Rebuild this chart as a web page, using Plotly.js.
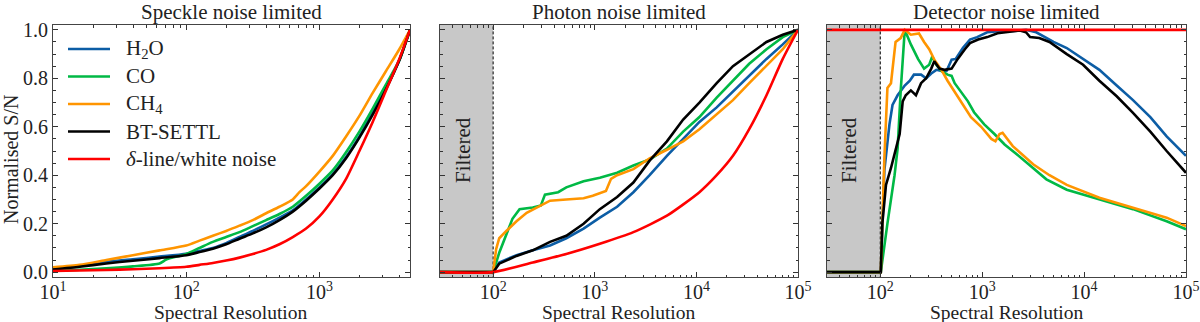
<!DOCTYPE html>
<html>
<head>
<meta charset="utf-8">
<script src="https://cdn.plot.ly/plotly-3.0.1.min.js"></script>
<style>html,body{margin:0;padding:0;background:#fff;}#chart{width:1200px;height:322px;}</style>
</head>
<body>
<div id="chart"></div>
<script>
// ---------- DATA (x given as log10 of spectral resolution, y = normalised S/N) ----------
const seriesNames = ["H<sub>2</sub>O", "CO", "CH<sub>4</sub>", "BT-SETTL", "<i>δ</i>-line/white noise"];
const seriesColors = ["#0C5DA5", "#00B945", "#FF9500", "#000000", "#FF0000"];
const panelTitles = ["Speckle noise limited", "Photon noise limited", "Detector noise limited"];
const axisTitleX = "Spectral Resolution";
const axisTitleY = "Normalised S/N";
const filterLabel = "Filtered";
const filterCut = 100;
const filterLow = 30;

// Panel 1: speckle noise limited
const spk_logR     = [1.0,1.2,1.4,1.6,1.8,2.0,2.1,2.2,2.3,2.4,2.5,2.6,2.7,2.8,2.9,3.0,3.1,3.2,3.3,3.4,3.5,3.6,3.68];
const spk_h2o      = [0.012,0.025,0.042,0.053,0.064,0.076,0.088,0.10,0.12,0.145,0.17,0.197,0.225,0.255,0.30,0.35,0.405,0.475,0.56,0.66,0.76,0.875,1.0];
const spk_bt       = [0.011,0.022,0.036,0.047,0.058,0.07,0.083,0.097,0.115,0.138,0.16,0.185,0.215,0.25,0.295,0.345,0.40,0.47,0.555,0.65,0.755,0.875,1.0];
const spk_wn       = [0.005,0.007,0.009,0.012,0.016,0.022,0.03,0.038,0.048,0.06,0.075,0.092,0.115,0.145,0.18,0.23,0.30,0.385,0.50,0.62,0.75,0.88,1.0];
const spk_co_logR  = [1.0,1.2,1.4,1.6,1.8,1.85,2.0,2.1,2.2,2.3,2.4,2.5,2.6,2.7,2.8,2.9,3.0,3.1,3.2,3.3,3.4,3.5,3.6,3.68];
const spk_co       = [0.007,0.010,0.016,0.024,0.036,0.052,0.075,0.10,0.125,0.145,0.165,0.19,0.215,0.24,0.27,0.315,0.365,0.42,0.495,0.58,0.675,0.775,0.875,1.0];
const spk_ch4_logR = [1.0,1.2,1.4,1.6,1.8,2.0,2.1,2.2,2.3,2.4,2.5,2.6,2.7,2.8,2.85,2.9,3.0,3.1,3.2,3.3,3.4,3.5,3.6,3.68];
const spk_ch4      = [0.02,0.03,0.05,0.07,0.09,0.11,0.13,0.15,0.17,0.192,0.215,0.243,0.27,0.30,0.33,0.355,0.415,0.48,0.56,0.645,0.74,0.83,0.92,1.0];

// Panel 2: photon noise limited
const pho_h2o_logR = [1.477,2.0,2.06,2.23,2.39,2.56,2.72,2.89,3.05,3.22,3.38,3.54,3.71,3.87,4.03,4.20,4.36,4.52,4.69,4.85,5.0];
const pho_h2o      = [0,0,0.04,0.07,0.09,0.11,0.14,0.18,0.225,0.27,0.33,0.40,0.48,0.55,0.62,0.68,0.745,0.81,0.88,0.94,1.0];
const pho_co_logR  = [1.477,2.0,2.06,2.13,2.19,2.26,2.39,2.47,2.51,2.64,2.72,2.89,3.05,3.22,3.38,3.54,3.71,3.87,4.03,4.20,4.36,4.52,4.69,4.85,5.0];
const pho_co       = [0,0,0.08,0.16,0.22,0.26,0.267,0.275,0.32,0.33,0.35,0.375,0.39,0.41,0.44,0.465,0.51,0.58,0.64,0.72,0.79,0.86,0.92,0.97,1.0];
const pho_ch4_logR = [1.477,2.0,2.03,2.06,2.13,2.23,2.33,2.46,2.56,2.72,2.89,2.98,3.11,3.16,3.22,3.38,3.54,3.71,3.87,4.03,4.20,4.36,4.52,4.69,4.85,5.0];
const pho_ch4      = [0,0,0.096,0.14,0.17,0.21,0.245,0.275,0.295,0.30,0.305,0.315,0.335,0.385,0.40,0.425,0.47,0.505,0.54,0.59,0.65,0.71,0.78,0.85,0.92,1.0];
const pho_bt_logR  = [1.477,2.0,2.06,2.23,2.39,2.56,2.72,2.89,3.05,3.22,3.38,3.54,3.71,3.87,4.03,4.20,4.36,4.52,4.69,4.85,5.0];
const pho_bt       = [0,0,0.035,0.067,0.09,0.125,0.15,0.20,0.26,0.31,0.37,0.46,0.54,0.63,0.70,0.78,0.85,0.90,0.95,0.98,1.0];
const pho_wn_logR  = [1.477,2.0,2.39,2.72,3.05,3.38,3.71,4.03,4.20,4.36,4.52,4.69,4.85,5.0];
const pho_wn       = [0,0,0.04,0.075,0.117,0.165,0.233,0.33,0.40,0.48,0.59,0.73,0.88,1.0];

// Panel 3: detector noise limited
const det_h2o_logR = [1.477,2.005,2.04,2.09,2.12,2.17,2.24,2.29,2.33,2.40,2.45,2.50,2.55,2.60,2.65,2.70,2.74,2.81,2.88,2.95,3.05,3.19,3.30,3.43,3.53,3.70,3.83,3.99,4.15,4.32,4.48,4.65,4.81,5.0];
const det_h2o      = [0,0,0.42,0.61,0.69,0.73,0.77,0.79,0.815,0.815,0.80,0.82,0.835,0.83,0.83,0.877,0.88,0.925,0.96,0.97,0.99,0.995,0.995,1.0,0.99,0.95,0.925,0.88,0.835,0.77,0.71,0.64,0.56,0.48];
const det_co_logR  = [1.477,2.005,2.07,2.14,2.17,2.20,2.24,2.30,2.37,2.43,2.48,2.51,2.55,2.60,2.66,2.70,2.73,2.79,2.86,2.92,3.02,3.12,3.22,3.33,3.50,3.63,3.83,4.15,4.48,4.81,5.0];
const det_co       = [0,0,0.20,0.40,0.51,0.746,1.0,0.94,0.88,0.84,0.856,0.89,0.856,0.83,0.815,0.81,0.78,0.746,0.705,0.66,0.61,0.57,0.527,0.49,0.43,0.383,0.34,0.30,0.26,0.21,0.177];
const det_ch4_logR = [1.477,2.005,2.04,2.07,2.105,2.15,2.20,2.24,2.30,2.38,2.43,2.48,2.53,2.60,2.66,2.73,2.79,2.89,2.99,3.09,3.13,3.17,3.20,3.30,3.50,3.66,3.83,4.15,4.48,4.81,5.0];
const det_ch4      = [0,0,0.47,0.76,0.78,0.95,0.966,1.0,0.98,0.985,0.95,0.92,0.877,0.835,0.79,0.746,0.705,0.64,0.60,0.55,0.54,0.57,0.575,0.52,0.445,0.40,0.36,0.307,0.266,0.225,0.19];
const det_bt_logR  = [1.477,2.005,2.02,2.056,2.105,2.15,2.19,2.22,2.25,2.30,2.35,2.40,2.45,2.50,2.53,2.58,2.63,2.70,2.76,2.83,2.88,2.96,3.05,3.15,3.24,3.37,3.43,3.47,3.56,3.66,3.83,3.99,4.15,4.32,4.48,4.65,4.81,5.0];
const det_bt       = [0,0,0.20,0.36,0.43,0.51,0.57,0.705,0.73,0.75,0.73,0.78,0.80,0.84,0.87,0.84,0.835,0.84,0.88,0.92,0.945,0.96,0.97,0.986,0.99,0.997,0.99,0.97,0.966,0.95,0.90,0.856,0.79,0.726,0.657,0.58,0.50,0.41];
const det_wn_logR  = [1.477,5.0];
const det_wn       = [1.0,1.0];

// ---------- BUILD ----------
const SERIF = '"Liberation Serif", "Times New Roman", serif';
const panels = [
  {xa:'x',  ya:'y',  smooth:[1,1,1,1,1], data:[[spk_logR,spk_h2o],[spk_co_logR,spk_co],[spk_ch4_logR,spk_ch4],[spk_logR,spk_bt],[spk_logR,spk_wn]]},
  {xa:'x2', ya:'y2', smooth:[0,0,0,0,1], data:[[pho_h2o_logR,pho_h2o],[pho_co_logR,pho_co],[pho_ch4_logR,pho_ch4],[pho_bt_logR,pho_bt],[pho_wn_logR,pho_wn]]},
  {xa:'x3', ya:'y3', smooth:[0,0,0,0,0], data:[[det_h2o_logR,det_h2o],[det_co_logR,det_co],[det_ch4_logR,det_ch4],[det_bt_logR,det_bt],[det_wn_logR,det_wn]]}
];
const toR = a => a.map(v => Math.pow(10, v));
const traces = [];
[['x2','y2'],['x3','y3']].forEach(([xa,ya]) => {
  traces.push({x:[filterLow,filterCut,filterCut,filterLow,filterLow], y:[-0.03,-0.03,1.03,1.03,-0.03], xaxis:xa, yaxis:ya,
    mode:'lines', fill:'toself', fillcolor:'#c8c8c8', line:{width:0}, showlegend:false, hoverinfo:'skip'});
  traces.push({x:[filterCut,filterCut], y:[-0.03,1.03], xaxis:xa, yaxis:ya, mode:'lines',
    line:{color:'#000', width:1, dash:'3px,2px'}, showlegend:false, hoverinfo:'skip'});
});
panels.forEach((p, pi) => {
  p.data.forEach((d, si) => {
    const ln = {color: seriesColors[si], width: 2.6};
    if (p.smooth[si]) { ln.shape = 'spline'; ln.smoothing = 0.6; }
    traces.push({x: toR(d[0]), y: d[1], xaxis: p.xa, yaxis: p.ya, mode:'lines',
      name: seriesNames[si], showlegend: false, line: ln});
  });
});

function decadeMinor(lo, hi){ const v=[]; for(let e=lo;e<hi;e++){ for(let k=2;k<=9;k++) v.push(k*Math.pow(10,e)); } return v; }
const W = 1200, H = 322;
const yDom = [45/H, 297/H];
const TXT = '#222';
function xaxis(domPx, rng, tv){
  return {domain:[domPx[0]/W, domPx[1]/W], type:'log', range:rng, tickmode:'array', tickvals:tv,
    ticktext: tv.map(v => '10<sup>'+Math.round(Math.log10(v))+'</sup>'),
    ticks:'inside', ticklen:5, tickcolor:'#333', showline:true, linecolor:'#444', linewidth:1, mirror:'ticks',
    ticklabelstandoff:-3,
    showgrid:false, zeroline:false, tickfont:{family:SERIF, size:20, color:TXT},
    minor:{tickmode:'array', tickvals: decadeMinor(1,5), ticks:'inside', ticklen:2.5, tickcolor:'#333', showgrid:false}};
}
function yaxis(anchor, labels){
  return {domain:yDom, anchor:anchor, range:[-0.02,1.02], tick0:0, dtick:0.2, tickformat:'.1f', showticklabels:labels,
    ticks:'inside', ticklen:5, tickcolor:'#333', showline:true, linecolor:'#444', linewidth:1, mirror:'ticks',
    showgrid:false, zeroline:false, tickfont:{family:SERIF, size:20, color:TXT},
    minor:{dtick:0.05, tick0:0, ticks:'inside', ticklen:2.5, tickcolor:'#333', showgrid:false}};
}
const centers = [(53+410)/2, (440+798)/2, (827+1186)/2];
const ann = [];
const shapes = [];
panelTitles.forEach((t,i) => {
  ann.push({text:t, xref:'paper', yref:'paper', x:centers[i]/W, y:(H-12)/H, xanchor:'center', yanchor:'middle', showarrow:false, font:{family:SERIF, size:21, color:TXT}});
  ann.push({text:axisTitleX, xref:'paper', yref:'paper', x:centers[i]/W, y:10/H, xanchor:'center', yanchor:'middle', showarrow:false, font:{family:SERIF, size:19.5, color:TXT}});
});
ann.push({text:axisTitleY, xref:'paper', yref:'paper', x:11/W, y:(H-160)/H, xanchor:'center', yanchor:'middle', textangle:-90, showarrow:false, font:{family:SERIF, size:20, color:TXT}});
[463, 849].forEach(xp => ann.push({text:filterLabel, xref:'paper', yref:'paper', x:xp/W, y:(H-150)/H, xanchor:'center', yanchor:'middle', textangle:-90, showarrow:false, font:{family:SERIF, size:21, color:TXT}}));

// legend (drawn inside the first panel, top-left)
seriesNames.forEach((n, i) => {
  const yPx = 49 + i * 27.5;
  shapes.push({type:'line', xref:'paper', yref:'paper', x0:68/W, x1:110/W, y0:(H-yPx)/H, y1:(H-yPx)/H, line:{color:seriesColors[i], width:2.6}});
  ann.push({text:n, xref:'paper', yref:'paper', x:124/W, y:(H-yPx)/H, xanchor:'left', yanchor:'middle', showarrow:false, font:{family:SERIF, size:21, color:TXT}});
});

const layout = {
  width:W, height:H, margin:{l:0,r:0,t:0,b:0}, paper_bgcolor:'#fff', plot_bgcolor:'rgba(0,0,0,0)',
  xaxis: Object.assign(xaxis([53,410],[1,3.68],[10,100,1000]), {anchor:'y'}),
  xaxis2: Object.assign(xaxis([440,798],[Math.log10(30),5],[100,1000,10000,100000]), {anchor:'y2'}),
  xaxis3: Object.assign(xaxis([827,1186],[Math.log10(30),5],[100,1000,10000,100000]), {anchor:'y3'}),
  yaxis: yaxis('x', true), yaxis2: yaxis('x2', false), yaxis3: yaxis('x3', false),
  showlegend:false,
  annotations: ann,
  shapes: shapes
};
Plotly.newPlot('chart', traces, layout, {staticPlot:true, displayModeBar:false});
</script>
</body>
</html>
